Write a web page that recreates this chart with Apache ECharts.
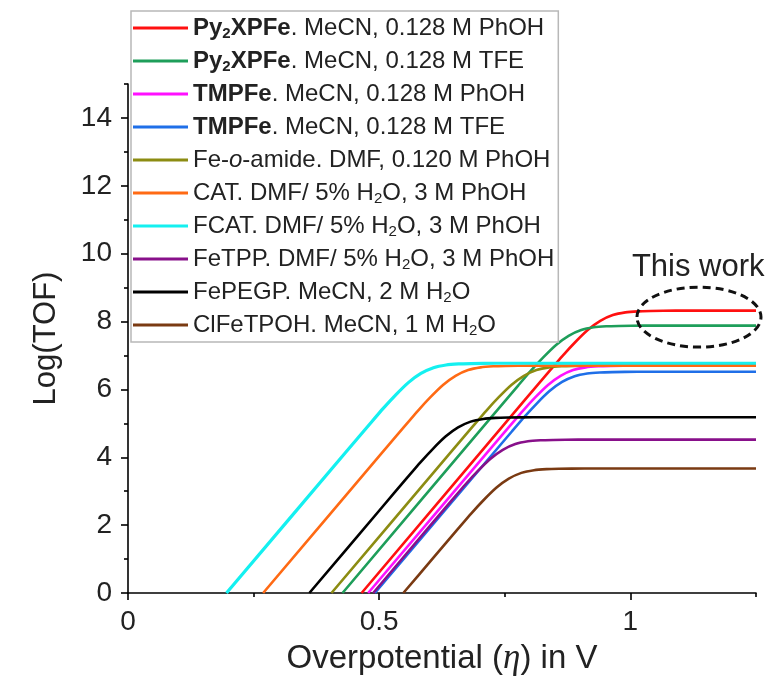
<!DOCTYPE html>
<html><head><meta charset="utf-8">
<script src="https://cdn.jsdelivr.net/npm/echarts@6/dist/echarts.min.js"></script>
<style>html,body{margin:0;padding:0;background:#fff}#c{width:769px;height:678px}</style>
</head><body><div id="c"></div>
<script>
// ---- data ----
const seriesNames = [
  'Py2XPFe. MeCN, 0.128 M PhOH',
  'Py2XPFe. MeCN, 0.128 M TFE',
  'TMPFe. MeCN, 0.128 M PhOH',
  'TMPFe. MeCN, 0.128 M TFE',
  'Fe-o-amide. DMF, 0.120 M PhOH',
  'CAT. DMF/ 5% H2O, 3 M PhOH',
  'FCAT. DMF/ 5% H2O, 3 M PhOH',
  'FeTPP. DMF/ 5% H2O, 3 M PhOH',
  'FePEGP. MeCN, 2 M H2O',
  'ClFeTPOH. MeCN, 1 M H2O'
];
const legendRich = [
  '{b|Py}{bs|2}{b|XPFe}{n|. MeCN, 0.128 M PhOH}',
  '{b|Py}{bs|2}{b|XPFe}{n|. MeCN, 0.128 M TFE}',
  '{b|TMPFe}{n|. MeCN, 0.128 M PhOH}',
  '{b|TMPFe}{n|. MeCN, 0.128 M TFE}',
  '{n|Fe-}{i|o}{n|-amide. DMF, 0.120 M PhOH}',
  '{n|CAT. DMF/ 5% H}{s|2}{n|O, 3 M PhOH}',
  '{n|FCAT. DMF/ 5% H}{s|2}{n|O, 3 M PhOH}',
  '{n|FeTPP. DMF/ 5% H}{s|2}{n|O, 3 M PhOH}',
  '{n|FePEGP. MeCN, 2 M H}{s|2}{n|O}',
  '{n|ClFeTPOH. MeCN, 1 M H}{s|2}{n|O}'
];
const colors = ['#ff1010','#1e9e5a','#ff10ff','#1f6fe8','#8c8c12','#ff6a14','#14f0f0','#88108a','#000000','#7a3a12'];

const pyPhOH = [[0.465,0],[0.790,5.69],[0.840,6.56],[0.865,6.99],[0.890,7.39],[0.915,7.75],[0.940,8.02],[0.965,8.19],[0.990,8.27],[1.015,8.30],[1.040,8.31],[1.090,8.32],[1.25,8.32]];
const pyTFE = [[0.427,0],[0.727,5.25],[0.777,6.12],[0.802,6.55],[0.827,6.95],[0.852,7.31],[0.877,7.58],[0.902,7.75],[0.927,7.83],[0.952,7.86],[0.977,7.87],[1.027,7.88],[1.25,7.88]];
const tmpPhOH = [[0.478,0],[0.711,4.07],[0.761,4.94],[0.786,5.37],[0.811,5.77],[0.836,6.13],[0.861,6.40],[0.886,6.57],[0.911,6.65],[0.936,6.68],[0.961,6.69],[1.011,6.70],[1.25,6.70]];
const tmpTFE = [[0.4915,0],[0.714,3.89],[0.764,4.76],[0.789,5.19],[0.814,5.59],[0.839,5.95],[0.864,6.22],[0.889,6.39],[0.914,6.47],[0.939,6.50],[0.964,6.51],[1.014,6.52],[1.25,6.52]];
const feAmide = [[0.405,0],[0.638,4.07],[0.688,4.94],[0.713,5.37],[0.738,5.77],[0.763,6.13],[0.788,6.40],[0.813,6.57],[0.838,6.65],[0.863,6.68],[0.888,6.69],[0.938,6.70],[1.25,6.70]];
const cat = [[0.269,0],[0.502,4.07],[0.552,4.94],[0.577,5.37],[0.602,5.77],[0.627,6.13],[0.652,6.40],[0.677,6.57],[0.702,6.65],[0.727,6.68],[0.752,6.69],[0.802,6.70],[1.25,6.70]];
const fcat = [[0.196,0],[0.433,4.14],[0.483,5.01],[0.508,5.44],[0.533,5.84],[0.558,6.20],[0.583,6.47],[0.608,6.64],[0.633,6.72],[0.658,6.75],[0.683,6.76],[0.733,6.77],[1.25,6.77]];
const fetpp = [[0.488,0],[0.596,1.89],[0.646,2.76],[0.671,3.19],[0.696,3.59],[0.721,3.95],[0.746,4.22],[0.771,4.39],[0.796,4.47],[0.821,4.50],[0.846,4.51],[0.896,4.52],[1.25,4.52]];
const fepegp = [[0.361,0],[0.507,2.55],[0.557,3.42],[0.582,3.85],[0.607,4.25],[0.632,4.61],[0.657,4.88],[0.682,5.05],[0.707,5.13],[0.732,5.16],[0.757,5.17],[0.807,5.18],[1.25,5.18]];
const clfetpoh = [[0.548,0],[0.608,1.04],[0.658,1.91],[0.683,2.34],[0.708,2.74],[0.733,3.10],[0.758,3.37],[0.783,3.54],[0.808,3.62],[0.833,3.65],[0.858,3.66],[0.908,3.67],[1.25,3.67]];
const seriesData = [pyPhOH, pyTFE, tmpPhOH, tmpTFE, feAmide, cat, fcat, fetpp, fepegp, clfetpoh];

const xMajorTicks = [0, 0.5, 1];
const xMinorTicks = [0.25, 0.75, 1.25];
const yMajorTicks = [0, 2, 4, 6, 8, 10, 12, 14];
const yMinorTicks = [1, 3, 5, 7, 9, 11, 13, 15];
const annotCenter = [1.1365, 8.13];
const annotTextPos = [1.135, 9.6];

// ---- chart ----
const FONT = '"Liberation Sans", Arial, sans-serif';
const TXT = '#222';
const chart = echarts.init(document.getElementById('c'), null, {renderer: 'canvas'});
const richBase = {fontFamily: FONT, fontSize: 24, color: TXT, lineHeight: 26};
const axisLineStyle = {color: '#000', width: 1.6};

const option = {
  animation: false,
  backgroundColor: '#fff',
  grid: {left: 128, right: 13, top: 84, bottom: 85, containLabel: false, outerBoundsMode: 'none'},
  xAxis: [{
    type: 'value', min: 0, max: 1.25, position: 'bottom',
    name: '{a|Overpotential (}{e|η}{a|) in V}',
    nameLocation: 'middle', nameGap: 48,
    nameTextStyle: {rich: {a: {fontFamily: FONT, fontSize: 33, color: TXT}, e: {fontFamily: '"Liberation Serif", "DejaVu Serif", serif', fontStyle: 'italic', fontSize: 35, color: TXT}}},
    axisLine: {show: true, onZero: false, lineStyle: axisLineStyle},
    axisTick: {show: true, inside: false, length: 7, lineStyle: axisLineStyle, customValues: xMajorTicks},
    axisLabel: {show: true, margin: 15, fontFamily: FONT, fontSize: 28, color: TXT, customValues: xMajorTicks},
    splitLine: {show: false}
  }, {
    type: 'value', min: 0, max: 1.25, position: 'bottom', offset: 0,
    axisLine: {show: false},
    axisTick: {show: true, inside: false, length: 4, lineStyle: axisLineStyle, customValues: xMinorTicks},
    axisLabel: {show: false},
    splitLine: {show: false}
  }],
  yAxis: [{
    type: 'value', min: 0, max: 15, position: 'left',
    name: 'Log(TOF)', nameLocation: 'middle', nameGap: 66,
    nameTextStyle: {fontFamily: FONT, fontSize: 31, color: TXT},
    axisLine: {show: true, onZero: false, lineStyle: axisLineStyle},
    axisTick: {show: true, inside: false, length: 7, lineStyle: axisLineStyle, customValues: yMajorTicks},
    axisLabel: {show: true, margin: 16, fontFamily: FONT, fontSize: 28, color: TXT, customValues: yMajorTicks},
    splitLine: {show: false}
  }, {
    type: 'value', min: 0, max: 15, position: 'left', offset: 0,
    axisLine: {show: false},
    axisTick: {show: true, inside: false, length: 4, lineStyle: axisLineStyle, customValues: yMinorTicks},
    axisLabel: {show: false},
    splitLine: {show: false}
  }],
  legend: {
    orient: 'vertical', left: 131, top: 11,
    padding: [4, 4, 4, 2], itemGap: 7,
    icon: 'rect', itemWidth: 55, itemHeight: 3,
    borderColor: '#b8b8b8', borderWidth: 1.5, backgroundColor: '#fff',
    selectedMode: false,
    data: seriesNames,
    formatter: function (name) { return legendRich[seriesNames.indexOf(name)]; },
    textStyle: {
      fontFamily: FONT, fontSize: 24, color: TXT, lineHeight: 26,
      rich: {
        n: richBase,
        b: Object.assign({}, richBase, {fontWeight: 'bold'}),
        i: Object.assign({}, richBase, {fontStyle: 'italic'}),
        s: {fontFamily: FONT, fontSize: 15, color: TXT, lineHeight: 12, verticalAlign: 'bottom'},
        bs: {fontFamily: FONT, fontSize: 15, color: TXT, fontWeight: 'bold', lineHeight: 12, verticalAlign: 'bottom'}
      }
    }
  },
  series: seriesNames.map(function (nm, k) {
    return {
      name: nm, type: 'line', xAxisIndex: 0, yAxisIndex: 0,
      data: seriesData[k], symbol: 'none', showSymbol: false, smooth: 0.2,
      color: colors[k],
      lineStyle: {color: colors[k], width: (k === 6 ? 3.2 : 2.6)},
      emphasis: {disabled: true},
      z: 2 + k
    };
  })
};
chart.setOption(option);

const c = chart.convertToPixel({xAxisIndex: 0, yAxisIndex: 0}, annotCenter);
const t = chart.convertToPixel({xAxisIndex: 0, yAxisIndex: 0}, annotTextPos);
chart.setOption({
  graphic: [{
    type: 'ellipse', shape: {cx: c[0], cy: c[1], rx: 62, ry: 30},
    style: {fill: 'none', stroke: '#111', lineWidth: 3, lineDash: [8, 5]}, z: 100
  }, {
    type: 'text', x: t[0], y: t[1],
    style: {text: 'This work', font: '31px "Liberation Sans", Arial, sans-serif', fill: TXT, textAlign: 'center', textVerticalAlign: 'middle'},
    z: 100
  }]
});
</script>
</body></html>
